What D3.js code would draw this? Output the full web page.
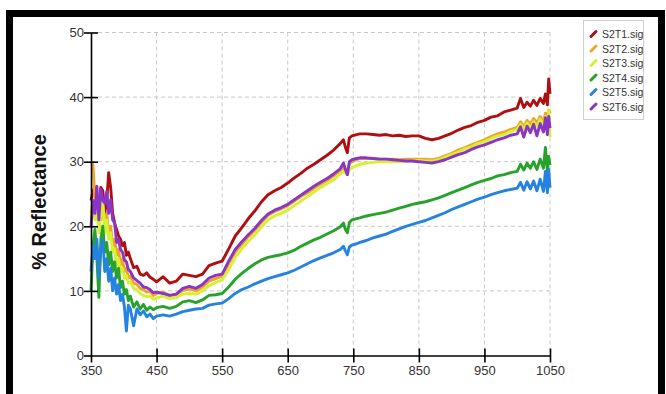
<!DOCTYPE html>
<html>
<head>
<meta charset="utf-8">
<script src="https://cdn.jsdelivr.net/npm/d3@7"></script>
<style>
  body { margin: 0; background: #fff; }
  svg { display: block; font-family: "Liberation Sans", Arial, sans-serif; }
</style>
</head>
<body>
<div id="chart"></div>
<script>
const width = 666;
const height = 394;

// wavelength (nm) sample points
const wavelengths = [350, 353, 356, 359, 362, 365, 368, 371, 374, 377, 380, 383, 386, 389, 392, 395, 398, 401, 404, 407,
    410, 415, 420, 425, 430, 435, 440, 445, 450, 460, 470, 480, 490, 500, 510, 520, 530, 540, 550, 560,
    570, 580, 590, 600, 610, 620, 630, 640, 650, 660, 670, 680, 690, 700, 710, 720, 730, 735, 738, 741,
    744, 748, 755, 760, 770, 780, 790, 800, 810, 820, 830, 840, 850, 860, 870, 880, 890, 900, 910, 920,
    930, 940, 950, 960, 970, 980, 990, 1000, 1005, 1010, 1015, 1020, 1025, 1030, 1035, 1040, 1043, 1046, 1048, 1050];

// % reflectance per sample
const s2t1 = [24, 25.5, 26, 25, 23, 26, 25.5, 22, 24, 28.3, 26, 22, 20.5, 19.5, 18.5, 18, 17, 17.5, 15.5, 16,
    15, 13.6, 13.8, 12.6, 12.4, 12.8, 12.1, 11.8, 11.4, 12.2, 11.2, 11.5, 12.6, 12.4, 12.2, 12.6, 13.9, 14.3, 14.6, 16.5,
    18.5, 19.8, 21.2, 22.4, 23.8, 24.9, 25.5, 26.0, 26.7, 27.5, 28.2, 29.0, 29.6, 30.3, 31.0, 31.8, 32.8, 33.4, 32.2, 31.4,
    33.7, 34.0, 34.2, 34.3, 34.3, 34.2, 34.1, 34.2, 34.0, 34.1, 33.9, 34.0, 34.0, 33.6, 33.4, 33.6, 34.0, 34.4, 34.9, 35.3,
    35.6, 36.1, 36.4, 36.9, 37.1, 37.7, 38.0, 38.3, 39.8, 38.4, 39.2, 38.6, 39.5, 38.7, 39.8, 39.0, 40.5, 38.8, 42.8, 40.5];
const s2t2 = [30, 29.5, 24, 22, 25, 21, 23, 20, 22, 19, 20, 17, 18, 15.5, 16.5, 14, 15, 13, 13.5, 12,
    12.3, 11.2, 11.0, 10.4, 10.2, 9.8, 9.9, 9.3, 9.6, 9.8, 9.3, 9.4, 10.1, 10.3, 10.0, 10.6, 11.5, 11.9, 12.3, 14.2,
    16.0, 17.2, 18.4, 19.4, 20.6, 21.7, 22.3, 22.7, 23.2, 23.9, 24.6, 25.2, 25.9, 26.5, 27.1, 27.8, 28.6, 29.1, 28.5, 28.0,
    29.7, 30.0, 30.3, 30.5, 30.5, 30.5, 30.4, 30.4, 30.4, 30.3, 30.4, 30.4, 30.4, 30.4, 30.3, 30.5, 30.9, 31.3, 31.8, 32.2,
    32.6, 33.0, 33.4, 33.9, 34.3, 34.6, 35.0, 35.3, 36.2, 35.4, 36.4, 35.8, 36.7, 36.0, 37.0, 36.3, 37.5, 36.8, 38.0, 37.5];
const s2t3 = [22, 24, 21, 23, 19, 22, 24, 19, 21, 18, 19, 16, 16.5, 14, 15, 13, 13.5, 12, 12.4, 11.2,
    11.4, 10.4, 10.2, 9.6, 9.3, 9.1, 9.2, 8.7, 8.9, 9.2, 8.8, 9.0, 9.5, 9.6, 9.5, 10.0, 10.8, 11.3, 11.7, 13.3,
    15.2, 16.5, 17.7, 18.7, 19.9, 21.0, 21.6, 22.0, 22.5, 23.2, 23.9, 24.6, 25.3, 26.0, 26.6, 27.2, 28.1, 28.5, 28.3, 28.0,
    28.8, 29.1, 29.4, 29.6, 29.8, 29.9, 30.0, 30.0, 30.0, 30.0, 30.1, 30.1, 30.2, 30.1, 30.1, 30.3, 30.7, 31.1, 31.5, 32.0,
    32.3, 32.8, 33.1, 33.6, 34.0, 34.2, 34.7, 35.0, 35.8, 34.9, 36.0, 35.2, 36.2, 35.5, 36.6, 35.6, 37.0, 35.0, 38.0, 33.8];
const s2t4 = [10, 17, 19.5, 15, 9, 18, 20, 16, 17.5, 14, 16, 13, 14.5, 12, 13.5, 10.5, 11.5, 9.5, 10.2, 8.5,
    9.2, 7.5, 8.3, 7.2, 7.9, 7.0, 7.5, 7.1, 7.4, 7.6, 7.3, 7.6, 8.3, 8.5, 8.2, 8.6, 9.3, 9.4, 9.6, 10.6,
    11.8, 12.7, 13.5, 14.2, 14.8, 15.2, 15.4, 15.6, 15.9, 16.3, 16.9, 17.4, 17.9, 18.3, 18.8, 19.3, 19.9, 20.5, 19.5, 19.0,
    20.6, 21.0, 21.2, 21.3, 21.6, 21.8, 22.0, 22.2, 22.5, 22.8, 23.1, 23.4, 23.6, 23.8, 24.1, 24.4, 24.8, 25.2, 25.6, 26.0,
    26.4, 26.8, 27.1, 27.4, 27.8, 28.0, 28.3, 28.5, 29.6, 28.7, 29.8, 29.0, 30.0, 28.8, 30.4, 29.0, 32.2, 28.5, 30.8, 29.5];
const s2t5 = [13, 17, 15, 18, 12, 16.5, 18, 13, 15, 11.5, 13.5, 10, 12, 9.5, 11, 8.5, 9.5, 7.5, 3.8, 7.8,
    7.2, 4.6, 7.2, 6.3, 6.9, 6.0, 6.4, 5.7, 6.1, 6.3, 6.1, 6.4, 6.8, 7.0, 7.2, 7.3, 7.8, 8.0, 8.1, 8.8,
    9.6, 10.2, 10.6, 11.1, 11.5, 11.9, 12.2, 12.5, 12.8, 13.2, 13.7, 14.2, 14.7, 15.1, 15.5, 15.9, 16.4, 16.9, 16.2, 15.6,
    16.8, 17.1, 17.3, 17.5, 17.8, 18.2, 18.5, 18.8, 19.2, 19.6, 20.0, 20.3, 20.6, 20.9, 21.3, 21.7, 22.1, 22.6, 23.0, 23.4,
    23.8, 24.2, 24.5, 24.9, 25.2, 25.5, 25.7, 25.9, 26.8, 25.6, 26.9, 25.8, 27.0, 25.5, 27.3, 25.4, 28.5, 25.2, 28.8, 26.0];
const s2t6 = [20, 24, 22, 26.2, 21, 25.7, 24, 23.6, 25.4, 22, 24.1, 21, 20.5, 17.5, 18, 16.4, 16, 14.8, 14.5, 13.3,
    13.0, 12.0, 11.6, 11.2, 10.6, 10.5, 10.2, 9.7, 9.8, 9.6, 9.3, 9.5, 10.4, 10.7, 10.4, 11.0, 12.0, 12.4, 12.6, 14.6,
    16.4, 17.6, 18.7, 19.7, 20.9, 21.9, 22.5, 22.9, 23.4, 24.1, 24.8, 25.5, 26.2, 26.8, 27.4, 28.1, 28.9, 29.8, 28.8, 28.0,
    30.0, 30.3, 30.5, 30.6, 30.6, 30.5, 30.4, 30.4, 30.3, 30.2, 30.1, 30.1, 30.0, 29.9, 29.8, 30.0, 30.3, 30.7, 31.1, 31.4,
    31.9, 32.3, 32.6, 33.0, 33.4, 33.7, 34.1, 34.3, 35.4, 33.8, 35.5, 34.5, 35.8, 34.0, 35.9, 34.6, 36.8, 34.2, 37.0, 35.2];

const seriesNames = ["S2T1.sig", "S2T2.sig", "S2T3.sig", "S2T4.sig", "S2T5.sig", "S2T6.sig"];
const seriesValues = [s2t1, s2t2, s2t3, s2t4, s2t5, s2t6];
const seriesColors = ["#b00f12", "#f2a32c", "#d6f032", "#27a22b", "#2583e0", "#8a35c6"];
// drawing order: purple over orange/yellow, blue over green
const drawOrder = [0, 1, 2, 5, 3, 4];

const xTicks = [350, 450, 550, 650, 750, 850, 950, 1050];
const yTicks = [0, 10, 20, 30, 40, 50];

const plot = { left: 91, right: 550, top: 32.5, bottom: 355.5 };

const svg = d3.select("#chart").append("svg")
    .attr("width", width)
    .attr("height", height);

// heavy black frame, bottom edge runs off the picture
svg.append("rect")
    .attr("x", 9.5).attr("y", 13.5)
    .attr("width", 652).attr("height", 420)
    .attr("fill", "none")
    .attr("stroke", "#000")
    .attr("stroke-width", 7);

const x = d3.scaleLinear().domain([350, 1050]).range([plot.left, plot.right]);
const y = d3.scaleLinear().domain([0, 50]).range([plot.bottom, plot.top]);

// dashed grid
const grid = svg.append("g").attr("stroke", "#c8c8c8").attr("stroke-dasharray", "4,3").attr("stroke-width", 1);
grid.selectAll(".vgrid")
    .data(xTicks.slice(1))
    .enter().append("line")
    .attr("x1", d => x(d)).attr("x2", d => x(d))
    .attr("y1", y(50)).attr("y2", y(0));
grid.selectAll(".hgrid")
    .data(yTicks.slice(1))
    .enter().append("line")
    .attr("x1", x(350)).attr("x2", x(1050))
    .attr("y1", d => y(d)).attr("y2", d => y(d));

// spectra
const line = d3.line()
    .x((d, i) => x(wavelengths[i]))
    .y(d => y(d));

svg.append("g").classed("lines", true)
    .selectAll("path")
    .data(drawOrder)
    .enter().append("path")
    .attr("d", k => line(seriesValues[k]))
    .attr("fill", "none")
    .attr("stroke", k => seriesColors[k])
    .attr("stroke-width", 2.9)
    .attr("stroke-linejoin", "round");

// axes with ticks crossing the axis line
const xAxis = svg.append("g")
    .attr("transform", `translate(0,${plot.bottom})`)
    .call(d3.axisBottom(x).tickValues(xTicks).tickFormat(d3.format("d"))
        .tickSize(7).tickSizeOuter(0).tickPadding(3));
xAxis.selectAll(".tick line").attr("y1", -7).attr("stroke-width", 1.6);
xAxis.select(".tick line").attr("y1", 0);
xAxis.select(".domain").attr("stroke-width", 1.6);
xAxis.selectAll("text").attr("font-size", 13).attr("fill", "#333");

const yAxis = svg.append("g")
    .attr("transform", `translate(${plot.left},0)`)
    .call(d3.axisLeft(y).tickValues(yTicks).tickSize(7).tickSizeOuter(0).tickPadding(0));
yAxis.selectAll(".tick line").attr("x1", 7).attr("stroke-width", 1.6);
yAxis.select(".tick line").attr("x1", 0);
yAxis.select(".domain").attr("stroke-width", 1.6);
yAxis.selectAll("text").attr("font-size", 13).attr("fill", "#333");

svg.append("text")
    .attr("transform", `translate(46,${(plot.top + plot.bottom) / 2 + 8}) rotate(-90)`)
    .attr("text-anchor", "middle")
    .attr("font-size", 20)
    .attr("font-weight", "bold")
    .attr("fill", "#111")
    .text("% Reflectance");

// legend
const legend = svg.append("g").classed("legend", true);
legend.append("rect")
    .attr("x", 583.5).attr("y", 20.5)
    .attr("width", 60).attr("height", 99)
    .attr("fill", "#fff")
    .attr("stroke", "#d0d0d0");
const items = legend.selectAll(".item")
    .data(seriesNames)
    .enter().append("g")
    .attr("transform", (d, i) => `translate(0,${34 + i * 14.5})`);
items.append("line")
    .attr("x1", 591).attr("y1", 2.5)
    .attr("x2", 596).attr("y2", -2.5)
    .attr("stroke", (d, i) => seriesColors[i])
    .attr("stroke-width", 3)
    .attr("stroke-linecap", "round");
items.append("text")
    .attr("x", 602)
    .attr("y", 4)
    .attr("font-size", 10.5)
    .attr("fill", "#333")
    .text(d => d);
</script>
</body>
</html>
